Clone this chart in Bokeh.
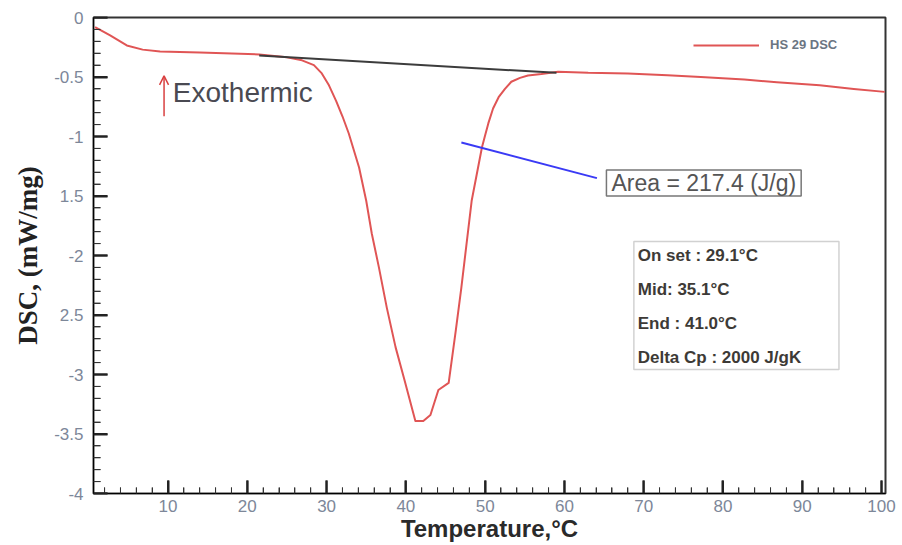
from bokeh.plotting import figure
from bokeh.models import (Range1d, Label, Arrow, OpenHead, Legend, LegendItem,
                          BoxAnnotation, FixedTicker)
from bokeh.embed import file_html
from bokeh.resources import INLINE

# ---- data ----
temperature = [0.8, 2.7, 4.8, 6.8, 9.0, 14.0, 21.5, 25.0, 26.9, 28.4, 29.4, 30.3,
               31.2, 32.0, 32.8, 34.1, 35.0, 35.7, 36.6, 37.6, 38.7, 39.8, 41.2,
               42.2, 43.1, 44.1, 45.4, 46.3, 47.0, 48.3, 49.6, 50.0, 50.4, 51.0,
               51.7, 52.5, 53.3, 54.4, 55.4, 57.1, 59.2, 63.0, 68.0, 73.0, 77.2,
               82.7, 86.8, 92.2, 96.5, 100.4]
dsc = [-0.08, -0.15, -0.235, -0.27, -0.285, -0.295, -0.31, -0.335, -0.36, -0.40,
       -0.47, -0.57, -0.70, -0.83, -0.975, -1.26, -1.54, -1.815, -2.10, -2.44,
       -2.77, -3.04, -3.39, -3.39, -3.34, -3.13, -3.07, -2.63, -2.27, -1.54,
       -1.09, -0.99, -0.89, -0.765, -0.67, -0.60, -0.54, -0.507, -0.487, -0.475,
       -0.455, -0.465, -0.47, -0.485, -0.50, -0.52, -0.545, -0.57, -0.60, -0.625]

baseline_t = [21.5, 59.0]
baseline_dsc = [-0.32, -0.465]

area_t = [47.0, 64.1]
area_dsc = [-1.05, -1.35]

x_ticks = [10, 20, 30, 40, 50, 60, 70, 80, 90, 100]
x_minor = [v for v in range(2, 101, 2) if v % 10 != 0]
y_ticks = [0, -0.5, -1, -1.5, -2, -2.5, -3, -3.5, -4]
y_minor = [round(-0.1 * i, 2) for i in range(1, 40) if i % 5 != 0]
y_tick_labels = ["0", "-0.5", "-1", "1.5", "-2", "2.5", "-3", "-3.5", "-4"]

series_name = "HS 29 DSC"
area_text = "Area = 217.4 (J/g)"
info_lines = ["On set : 29.1\u00b0C", "Mid: 35.1\u00b0C", "End : 41.0\u00b0C",
              "Delta Cp : 2000 J/gK"]

X0, X1, Y0, Y1 = 0.6, 100.5, -4.0, 0.0
W, H = 902, 545
BL, BR, BT, BB = 93, 17, 17, 52
px_x = (X1 - X0) / (W - BL - BR)   # data units per pixel, x
px_y = (Y1 - Y0) / (H - BT - BB)   # data units per pixel, y

# ---- figure ----
p = figure(width=W, height=H, output_backend="svg", toolbar_location=None,
           x_range=Range1d(X0, X1), y_range=Range1d(Y0, Y1),
           min_border_left=BL, min_border_right=BR, min_border_top=BT,
           min_border_bottom=BB)
p.grid.visible = False
p.outline_line_color = "#333333"
p.outline_line_width = 2

tick_color = "#7d8799"
for ax in (p.xaxis[0], p.yaxis[0]):
    ax.major_tick_out = 0
    ax.minor_tick_out = 0
    ax.major_tick_line_width = 2
    ax.major_tick_line_color = "#222222"
    ax.minor_tick_line_color = "#333333"
    ax.major_label_text_color = tick_color
    ax.major_label_text_font = "Liberation Sans"
    ax.major_label_text_font_size = "17px"

p.yaxis.major_tick_in = 14
p.yaxis.minor_tick_in = 7
p.xaxis.major_tick_in = 13
p.xaxis.minor_tick_in = 6

p.xaxis.ticker = FixedTicker(ticks=x_ticks, minor_ticks=x_minor)
p.yaxis.ticker = FixedTicker(ticks=y_ticks, minor_ticks=y_minor)
p.yaxis.major_label_overrides = {t: l for t, l in zip(y_ticks, y_tick_labels)}
p.xaxis.major_label_standoff = 6
p.yaxis.major_label_standoff = 10

p.xaxis.axis_label = "Temperature,\u00b0C"
p.xaxis.axis_label_text_font = "Liberation Sans"
p.xaxis.axis_label_text_font_style = "bold"
p.xaxis.axis_label_text_font_size = "24px"
p.xaxis.axis_label_text_color = "#2a2a2a"
p.xaxis.axis_label_standoff = 0

p.yaxis.axis_label = "DSC, (mW/mg)"
p.yaxis.axis_label_text_font = "Liberation Serif"
p.yaxis.axis_label_text_font_style = "bold"
p.yaxis.axis_label_text_font_size = "27px"
p.yaxis.axis_label_text_color = "#222222"
p.yaxis.axis_label_standoff = 8

# ---- inward tick marks as glyphs too (same positions as the axis ticks) ----
p.segment(x0=[X0] * len(y_ticks), y0=y_ticks,
          x1=[X0 + 14 * px_x] * len(y_ticks), y1=y_ticks,
          line_color="#222222", line_width=2)
p.segment(x0=[X0] * len(y_minor), y0=y_minor,
          x1=[X0 + 7 * px_x] * len(y_minor), y1=y_minor,
          line_color="#333333", line_width=1)
p.segment(x0=x_ticks, y0=[Y0] * len(x_ticks),
          x1=x_ticks, y1=[Y0 + 13 * px_y] * len(x_ticks),
          line_color="#222222", line_width=2)
p.segment(x0=x_minor, y0=[Y0] * len(x_minor),
          x1=x_minor, y1=[Y0 + 6 * px_y] * len(x_minor),
          line_color="#333333", line_width=1)

# ---- marks ----
curve = p.line(temperature, dsc, line_color="#e05555", line_width=2,
               line_join="round")
p.line(baseline_t, baseline_dsc, line_color="#3c3c3c", line_width=2)
p.line(area_t, area_dsc, line_color="#3a3af5", line_width=2)

legend = Legend(items=[LegendItem(label=series_name, renderers=[curve])],
                location=(600, 441), orientation="horizontal",
                glyph_width=66, glyph_height=12, label_standoff=11,
                padding=0, margin=0, border_line_color=None,
                background_fill_alpha=0,
                label_text_font="Liberation Sans", label_text_font_style="bold",
                label_text_font_size="13px", label_text_color="#6b7582")
p.add_layout(legend)

# Exothermic arrow + text
p.add_layout(Arrow(end=OpenHead(size=9, line_color="#d94040", line_width=1.5),
                   x_start=9.5, y_start=-0.83, x_end=9.5, y_end=-0.49,
                   line_color="#d94040", line_width=1.5))
p.add_layout(Label(x=10.6, y=-0.63, text="Exothermic", text_baseline="middle",
                   text_font="Liberation Sans", text_font_size="28px",
                   text_color="#4a4a52"))

# Area label with box
p.add_layout(Label(x=65.3, y=-1.39, text=area_text, text_baseline="middle",
                   text_font="Liberation Sans", text_font_size="23px",
                   text_color="#555555", padding=(5, 0),
                   border_line_color="#777777", border_line_width=1.5,
                   background_fill_color="white"))

# Info box
p.add_layout(BoxAnnotation(left=68.76, right=94.63, top=-1.882, bottom=-2.958,
                           fill_color="white", fill_alpha=1,
                           line_color="#666666", line_width=1.5))
for i, txt in enumerate(info_lines):
    p.add_layout(Label(x=69.25, y=-2.0 - 0.286 * i, text=txt,
                       text_baseline="middle", text_font="Liberation Sans",
                       text_font_style="bold", text_font_size="17px",
                       text_color="#3d3a36"))

open("out.html", "w").write(file_html(p, INLINE))
